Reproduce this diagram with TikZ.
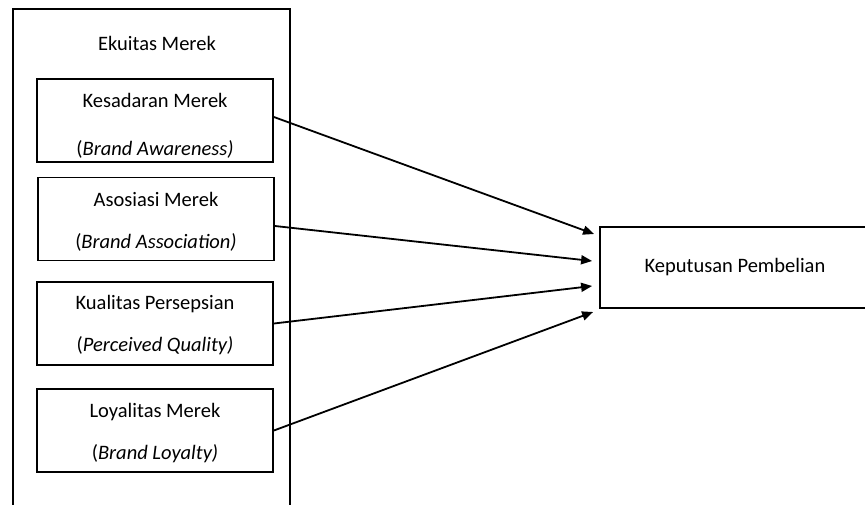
\documentclass[tikz,border=0pt]{standalone}
\usepackage{fontspec}
\setmainfont{Carlito}
\usetikzlibrary{arrows.meta}

\begin{document}
\begin{tikzpicture}[
  x=1pt,y=-1pt,draw=black,text=black,
  line width=1.8pt,
  >={Triangle[length=11pt,width=9pt]},
  outer/.style={draw,minimum width=277pt,minimum height=540pt,inner sep=0pt},
  dim/.style={draw,minimum width=236pt,minimum height=83pt,inner sep=0pt},
  dimtext/.style={align=center,inner sep=0pt,
    font=\fontsize{20.5}{42}\selectfont},
  result/.style={draw,minimum width=270pt,minimum height=81pt,inner sep=0pt,
    font=\fontsize{20.5}{24}\selectfont},
  lbl/.style={font=\fontsize{20.5}{24}\selectfont,inner sep=0pt}
]
\clip (0,0) rectangle (865,504);
\useasboundingbox (0,0) rectangle (865,504);

% Outer frame for brand equity, its bottom runs off the page.
\node[outer] (ekuitas) at (151.3,279) {};
\node[lbl] (judul) at (157,43) {Ekuitas Merek};

% The four dimensions, text sits a little below the box centre.
\node[dim] (b1) at (155,120.5) {};
\node[dim] (b2) at (156,219) {};
\node[dim] (b3) at (155,323.5) {};
\node[dim] (b4) at (155,430.5) {};
\node[dimtext,font=\fontsize{20.5}{48}\selectfont] (b1t) at ([yshift=-5.5pt]b1)
  {Kesadaran Merek\\(\textit{Brand Awareness)}};
\node[dimtext] (b2t) at ([yshift=-2.5pt]b2) {Asosiasi Merek\\(\textit{Brand Association)}};
\node[dimtext] (b3t) at ([yshift=-2pt]b3) {Kualitas Persepsian\\(\textit{Perceived Quality)}};
\node[dimtext] (b4t) at ([yshift=-2.5pt]b4) {Loyalitas Merek\\(\textit{Brand Loyalty)}};

% Purchase decision, cut at the right edge.
\node[result] (kp) at (735,267.5) {Keputusan Pembelian};

% Arrow tips stop just short of the box.
\coordinate (t1) at ([xshift=-5pt,yshift=33.5pt]kp.west);
\coordinate (t2) at ([xshift=-7pt,yshift=6.5pt]kp.west);
\coordinate (t3) at ([xshift=-7pt,yshift=-18.5pt]kp.west);
\coordinate (t4) at ([xshift=-6pt,yshift=-44.5pt]kp.west);

\draw[->] ([yshift=3.5pt]b1.east) -- (t1);
\draw[->] ([yshift=-7pt]b2.east) -- (t2);
\draw[->] (b3.east) -- (t3);
\draw[->] (b4.east) -- (t4);

\end{tikzpicture}
\end{document}
